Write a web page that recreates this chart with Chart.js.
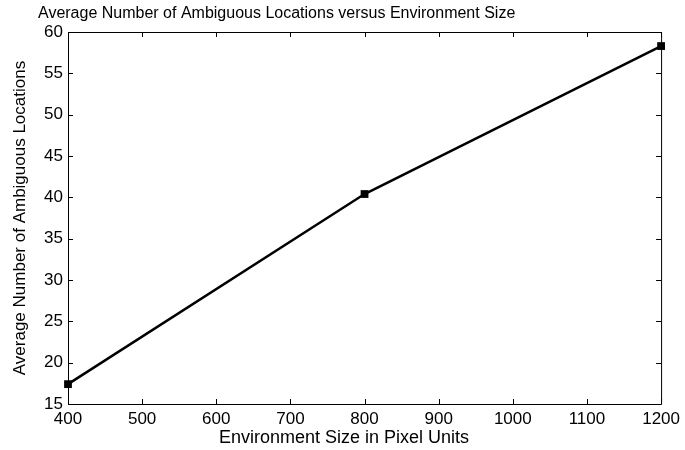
<!DOCTYPE html>
<html>
<head>
<meta charset="utf-8">
<script src="https://cdn.jsdelivr.net/npm/chart.js@4/dist/chart.umd.min.js"></script>
<style>
  html, body { margin: 0; padding: 0; background: #fff; }
  #wrap { width: 685px; height: 450px; }
</style>
</head>
<body>
<div id="wrap"><canvas id="chart"></canvas></div>
<script>
const envSizes = [400, 800, 1200];
const ambiguous = [17.4, 40.4, 58.3];
const xTicks = [400, 500, 600, 700, 800, 900, 1000, 1100, 1200];
const yTicks = [15, 20, 25, 30, 35, 40, 45, 50, 55, 60];

const chartTitle = 'Average Number of Ambiguous Locations versus Environment Size';
const xTitle = 'Environment Size in Pixel Units';
const yTitle = 'Average Number of Ambiguous Locations';

const font = "'Liberation Sans', Arial, Helvetica, sans-serif";

// MATLAB-style box with inward ticks on all four sides, plus the
// title and x label, which MATLAB places a little left of centre
const matlabFrame = {
  id: 'matlabFrame',
  afterDraw(chart) {
    const { ctx, chartArea: a, scales } = chart;
    const len = 5;
    ctx.save();
    ctx.strokeStyle = '#000';
    ctx.lineWidth = 1;
    ctx.beginPath();
    ctx.rect(a.left + 0.5, a.top + 0.5, a.right - a.left, a.bottom - a.top);
    scales.x.ticks.forEach(t => {
      const px = Math.round(scales.x.getPixelForValue(t.value)) + 0.5;
      ctx.moveTo(px, a.bottom); ctx.lineTo(px, a.bottom - len);
      ctx.moveTo(px, a.top); ctx.lineTo(px, a.top + len);
    });
    scales.y.ticks.forEach(t => {
      const py = Math.round(scales.y.getPixelForValue(t.value)) + 0.5;
      ctx.moveTo(a.left, py); ctx.lineTo(a.left + len, py);
      ctx.moveTo(a.right, py); ctx.lineTo(a.right - len, py);
    });
    ctx.stroke();

    ctx.fillStyle = '#000';
    ctx.textBaseline = 'middle';
    ctx.textAlign = 'left';
    ctx.font = '16px ' + font;
    ctx.fillText(chartTitle, 38, 14);
    ctx.textAlign = 'center';
    ctx.font = '18px ' + font;
    ctx.fillText(xTitle, 344, 438);
    ctx.restore();
  }
};

new Chart(document.getElementById('chart'), {
  type: 'line',
  data: {
    datasets: [{
      data: envSizes.map((x, i) => ({ x: x, y: ambiguous[i] })),
      borderColor: '#000',
      backgroundColor: '#000',
      borderWidth: 2.5,
      pointStyle: 'rect',
      pointRadius: 5.5,
      pointHoverRadius: 5.5,
      pointBorderWidth: 0,
      tension: 0,
      clip: false
    }]
  },
  options: {
    responsive: true,
    maintainAspectRatio: false,
    animation: false,
    events: [],
    layout: { padding: { left: 0, right: 23, top: 32, bottom: 0 } },
    plugins: {
      legend: { display: false },
      tooltip: { enabled: false },
      title: { display: false }
    },
    scales: {
      x: {
        type: 'linear',
        min: 400,
        max: 1200,
        afterBuildTicks: s => { s.ticks = xTicks.map(v => ({ value: v })); },
        afterFit: s => { s.height = 46; },
        grid: { display: false, drawTicks: false },
        border: { display: false },
        ticks: {
          color: '#000',
          padding: 5,
          maxRotation: 0,
          font: { family: font, size: 17 },
          callback: v => String(v)
        }
      },
      y: {
        min: 15,
        max: 60,
        afterBuildTicks: s => { s.ticks = yTicks.map(v => ({ value: v })); },
        afterFit: s => { s.width = 68; },
        grid: { display: false, drawTicks: false },
        border: { display: false },
        ticks: {
          color: '#000',
          padding: 5,
          font: { family: font, size: 17 },
          callback: v => String(v)
        },
        title: {
          display: true,
          text: yTitle,
          color: '#000',
          font: { family: "'Liberation Sans Narrow', " + font, size: 17 },
          padding: { top: 10, bottom: 0 }
        }
      }
    }
  },
  plugins: [matlabFrame]
});
</script>
</body>
</html>
